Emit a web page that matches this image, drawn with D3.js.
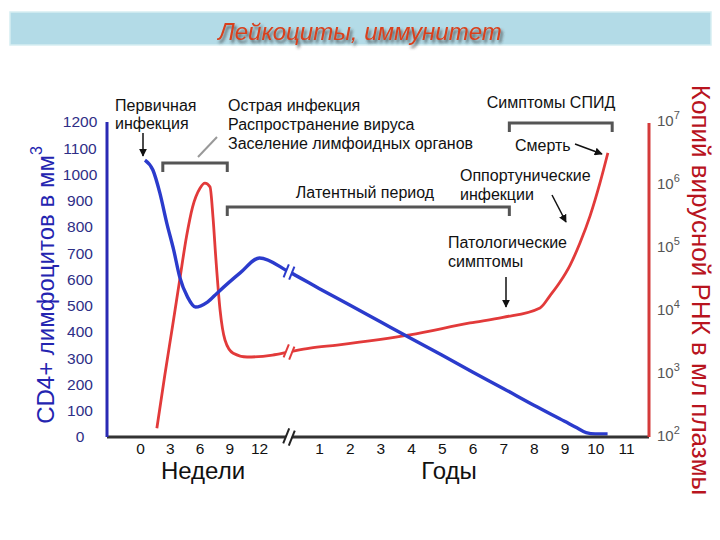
<!DOCTYPE html>
<html><head><meta charset="utf-8">
<script src="https://cdn.jsdelivr.net/npm/d3@7"></script>
<style>body{margin:0;background:#fff} svg{display:block;font-family:"Liberation Sans",Arial,sans-serif}</style>
</head><body><svg id="c" width="720" height="540"></svg>
<script>
// ---------- data ----------
const titleText = "Лейкоциты, иммунитет";
const cd4Ticks = [0,100,200,300,400,500,600,700,800,900,1000,1100,1200];
const rnaTicks = [1e2,1e3,1e4,1e5,1e6,1e7];
const weekTicks = [0,3,6,9,12];
const yearTicks = [1,2,3,4,5,6,7,8,9,10,11];
const breakWeek = 32;

// CD4+ lymphocytes per mm3
const cd4EarlyWeeks  = [0.5, 1.3, 2.0, 2.7, 3.4, 4.0, 4.8, 5.6, 6.8, 7.8, 10.1, 12.3, 32];
const cd4EarlyValues = [1055,1017,930, 815, 712, 610, 533, 495, 514, 549, 625,  682,  629];
const cd4LateYears   = [1,   2,   3,   4,   5,   6,   7,   8,   9,  9.4, 9.7, 10, 10.4];
const cd4LateValues  = [566, 503, 439, 375, 312, 248, 185, 121, 60, 35,  17,  12, 12];

// viral RNA copies per ml plasma
const rnaEarlyWeeks  = [1.7, 2.5, 3.3, 4.0, 4.7, 5.3, 6.05, 6.55, 7.06, 7.36, 7.66, 8.07, 8.57, 9.4, 10.8, 21, 32, 46];
const rnaEarlyValues = [138, 955, 6000, 30900, 155000, 447000, 891000, 1070000, 933000, 309000, 64600, 10500, 3470, 2140, 1860, 2000, 2240, 2570];
const rnaLateYears   = [1.59, 3.96, 5.92, 6.99, 8.2,   8.52,  8.85,  9.18,  9.5,    9.83,   10.15,   10.41];
const rnaLateValues  = [2880, 4170, 6460, 7940, 11200, 17400, 28800, 53700, 120000, 324000, 1070000, 3240000];

// annotations
const primaryLabel = ["Первичная","инфекция"];
const acuteLabel = ["Острая инфекция","Распространение вируса","Заселение лимфоидных органов"];
const latentLabel = "Латентный период";
const aidsLabel = "Симптомы СПИД";
const deathLabel = "Смерть";
const oppLabel = ["Оппортунические","инфекции"];
const pathLabel = ["Патологические","симптомы"];
const leftTitle = "CD4+ лимфоцитов в мм";
const rightTitle = "Копий вирусной РНК в мл плазмы";
const weeksLabel = "Недели", yearsLabel = "Годы";

// ---------- drawing ----------
const svg = d3.select("#c");
const W = 52; // weeks per year
const x = d3.scaleLinear().domain([0,12,W,11*W]).range([140,259,319,626]);
const yL = d3.scaleLinear().domain([0,1200]).range([437,122]);
const yR = d3.scaleLog().domain([1e2,1e7]).range([437,122]);

const defs = svg.append("defs");
const f = defs.append("filter").attr("id","sh").attr("x","-10%").attr("y","-30%").attr("width","130%").attr("height","180%");
f.append("feDropShadow").attr("dx",2).attr("dy",3).attr("stdDeviation",1.6).attr("flood-color","#333").attr("flood-opacity",0.75);
defs.append("marker").attr("id","arr").attr("viewBox","0 0 10 10").attr("refX",9).attr("refY",5)
  .attr("markerWidth",8).attr("markerHeight",8).attr("markerUnits","userSpaceOnUse").attr("orient","auto")
  .append("path").attr("d","M0,0 L10,5 L0,10 Z").attr("fill","#111");

// title bar
svg.append("rect").attr("x",10).attr("y",12).attr("width",701).attr("height",33)
  .attr("fill","#b3dbe7").attr("stroke","#d6eef2").attr("stroke-width",1.5);
svg.append("text").attr("x",360).attr("y",31).attr("text-anchor","middle").attr("dominant-baseline","central")
  .attr("font-size",24).attr("font-style","italic").attr("fill","#d8401c").attr("filter","url(#sh)").text(titleText);

// combined series
const cd4 = cd4EarlyWeeks.map((t,i)=>[t,cd4EarlyValues[i]]).concat(cd4LateYears.map((t,i)=>[t*W,cd4LateValues[i]]));
const rna = rnaEarlyWeeks.map((t,i)=>[t,rnaEarlyValues[i]]).concat(rnaLateYears.map((t,i)=>[t*W,rnaLateValues[i]]));

const blue = "#2b3bcc", red = "#e23a3a";
const lineL = d3.line().x(d=>x(d[0])).y(d=>yL(d[1])).curve(d3.curveMonotoneX);
const lineR = d3.line().x(d=>x(d[0])).y(d=>yR(d[1])).curve(d3.curveMonotoneX);

// brackets
const brackets = [[2.3, 8.8, 163], [8.8, 7.2*W, 207], [7.2*W, 10.55*W, 123]];
brackets.forEach(b=>{
  const x0=x(b[0]), x1=x(b[1]), yy=b[2];
  svg.append("path").attr("d",`M${x0},${yy+9}V${yy}H${x1}V${yy+9}`).attr("fill","none")
    .attr("stroke","#555").attr("stroke-width",3);
});

// curves
svg.append("path").attr("d",lineR(rna)).attr("fill","none").attr("stroke",red).attr("stroke-width",2.8);
svg.append("path").attr("d",lineL(cd4)).attr("fill","none").attr("stroke",blue).attr("stroke-width",3.4);

function breakMark(cx, cy, color, len){
  const g = svg.append("g").attr("transform",`translate(${cx},${cy}) rotate(22)`);
  g.append("rect").attr("x",-2.5).attr("y",-len/2+2).attr("width",5).attr("height",len-4).attr("fill","#fff");
  [-3,3].forEach(dx=>g.append("line").attr("x1",dx).attr("x2",dx).attr("y1",-len/2).attr("y2",len/2)
    .attr("stroke",color).attr("stroke-width",2));
}
const bi = cd4EarlyWeeks.indexOf(breakWeek), ri = rnaEarlyWeeks.indexOf(breakWeek);
breakMark(x(breakWeek), yL(cd4EarlyValues[bi]), blue, 14);
breakMark(x(breakWeek), yR(rnaEarlyValues[ri]), red, 14);

// axes lines
svg.append("line").attr("x1",107).attr("x2",649).attr("y1",437).attr("y2",437).attr("stroke","#333").attr("stroke-width",3);
svg.append("line").attr("x1",107).attr("x2",107).attr("y1",122).attr("y2",437).attr("stroke","#2a2ab4").attr("stroke-width",3);
svg.append("line").attr("x1",649).attr("x2",649).attr("y1",123).attr("y2",437).attr("stroke","#d43a3a").attr("stroke-width",3);
breakMark(x(breakWeek), 437, "#222", 16);

// left axis
const gL = svg.append("g").attr("transform","translate(107,0)")
  .call(d3.axisLeft(yL).tickValues(cd4Ticks).tickSize(0).tickFormat(d3.format("d")));
gL.select(".domain").remove();
gL.selectAll("text").attr("x",-27).attr("text-anchor","middle").attr("font-size",15.5)
  .attr("fill","#2e2e86").attr("font-family","Liberation Sans, Arial, sans-serif");

// right axis
const gR = svg.append("g").attr("transform","translate(649,0)")
  .call(d3.axisRight(yR).tickValues(rnaTicks).tickSize(0).tickFormat(()=>""));
gR.select(".domain").remove();
gR.selectAll("text").attr("x",8).attr("dy","0.2em").attr("font-size",15).attr("fill","#555")
  .attr("font-family","Liberation Sans, Arial, sans-serif")
  .each(function(d){
    const t=d3.select(this);
    t.append("tspan").text("10");
    t.append("tspan").attr("dy",-7).attr("font-size",11).text(Math.round(Math.log10(d)));
  });

// bottom axis
const gB = svg.append("g").attr("transform","translate(0,437)")
  .call(d3.axisBottom(x).tickValues(weekTicks.concat(yearTicks.map(y=>y*W))).tickSize(0).tickPadding(6)
    .tickFormat(d=> d<=12 ? d : d/W));
gB.select(".domain").remove();
gB.selectAll("text").attr("font-size",15.5).attr("fill","#111").attr("font-family","Liberation Sans, Arial, sans-serif");

svg.append("text").attr("x",203).attr("y",470).attr("text-anchor","middle").attr("dominant-baseline","central")
  .attr("font-size",24).attr("fill","#111").text(weeksLabel);
svg.append("text").attr("x",449).attr("y",470).attr("text-anchor","middle").attr("dominant-baseline","central")
  .attr("font-size",24).attr("fill","#111").text(yearsLabel);

// axis titles
const lt = svg.append("text").attr("transform","translate(45,285) rotate(-90)").attr("text-anchor","middle")
  .attr("dominant-baseline","central").attr("font-size",24).attr("fill","#2424b0");
lt.append("tspan").text(leftTitle);
lt.append("tspan").attr("dy",-9).attr("font-size",16).text("3");
svg.append("text").attr("transform","translate(701,290) rotate(90)").attr("text-anchor","middle")
  .attr("dominant-baseline","central").attr("font-size",26).attr("fill","#b8141e").text(rightTitle);

// annotation text
function lines(arr, x0, y0, dy, anchor){
  arr.forEach((s,i)=>svg.append("text").attr("x",x0).attr("y",y0+i*dy).attr("text-anchor",anchor||"start")
    .attr("dominant-baseline","central").attr("font-size",16).attr("fill","#111").text(s));
}
lines(primaryLabel, 115, 105, 18.5);
lines(acuteLabel, 228, 105, 19);
lines([latentLabel], 365, 192, 0, "middle");
lines([aidsLabel], 551, 102, 0, "middle");
lines([deathLabel], 515, 145, 0);
lines(oppLabel, 460, 175, 19);
lines(pathLabel, 448, 242, 19);

// arrows & connector
svg.append("line").attr("x1",198).attr("y1",157).attr("x2",217).attr("y2",137).attr("stroke","#999").attr("stroke-width",2);
[[143,133,143,156],[575,144,602,154],[552,195,566,222],[506,277,506,307]].forEach(a=>{
  svg.append("line").attr("x1",a[0]).attr("y1",a[1]).attr("x2",a[2]).attr("y2",a[3])
    .attr("stroke","#111").attr("stroke-width",1.5).attr("marker-end","url(#arr)");
});
</script></body></html>
